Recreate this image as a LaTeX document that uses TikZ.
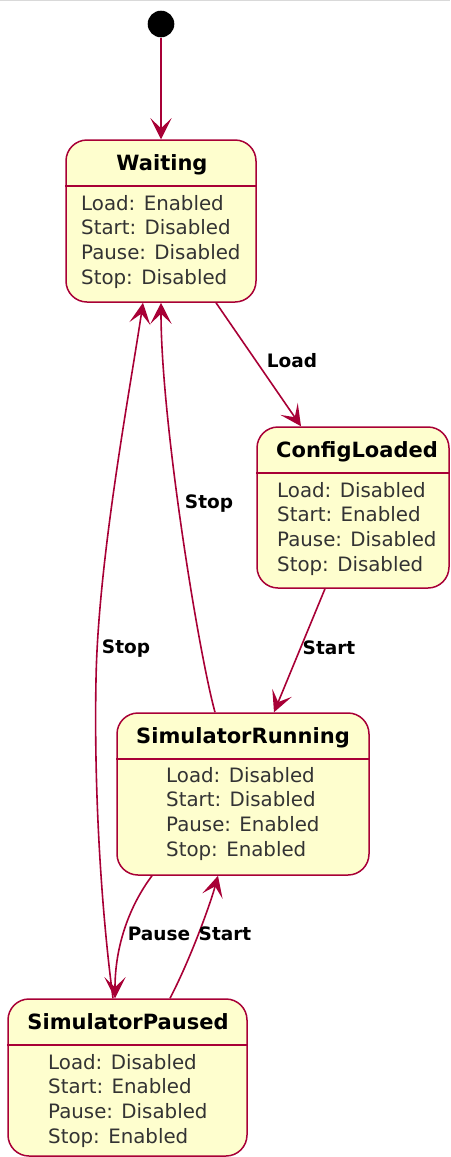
\documentclass[tikz,border=0pt]{standalone}
\usepackage{fontspec}
\setmainfont{DejaVu Sans}
\usetikzlibrary{arrows.meta,calc}

\definecolor{edgecol}{HTML}{A80036}
\definecolor{statefill}{HTML}{FEFECE}

\tikzset{
  statebox/.style={draw=edgecol, fill=statefill, line width=1.5pt,
    rounded corners=21pt, inner sep=0pt},
  statetitle/.style={font=\bfseries\fontsize{21}{25}\selectfont,
    anchor=base, inner sep=0pt},
  statebody/.style={font=\fontsize{19.8}{24.7}\selectfont, text=black!80,
    anchor=north west, align=left, inner sep=0pt},
  divider/.style={draw=edgecol, line width=1.5pt},
  trans/.style={draw=edgecol, line width=1.6pt,
    -{Stealth[length=21pt,width=21pt,inset=10pt]}},
  translabel/.style={font=\bfseries\fontsize{18.5}{22}\selectfont,
    inner sep=0pt},
}

\begin{document}
\begin{tikzpicture}[x=1pt,y=1pt]
\useasboundingbox (0,0) rectangle (450,-1157);
\draw[line width=1pt, black!15] (0,-0.5) -- (450,-0.5);

% initial pseudo-state
\node[circle, fill=black, minimum size=26.6pt, inner sep=0pt] (init) at (161,-24) {};

% states
\node[statebox, minimum width=190pt, minimum height=162pt] (W) at (161,-221) {};
\draw[divider] (W.west |- 0,-186) -- (W.east |- 0,-186);
\node[statetitle] (Wt) at (162,-170) {Waiting};
\node[statebody] (Wb) at (81,-195) {Load: Enabled\\Start: Disabled\\Pause: Disabled\\Stop: Disabled};

\node[statebox, minimum width=192pt, minimum height=161pt] (C) at (353,-507.5) {};
\draw[divider] (C.west |- 0,-473) -- (C.east |- 0,-473);
\node[statetitle] (Ct) at (357,-457) {ConfigLoaded};
\node[statebody] (Cb) at (277,-482) {Load: Disabled\\Start: Enabled\\Pause: Disabled\\Stop: Disabled};

\node[statebox, minimum width=252pt, minimum height=162pt] (R) at (243,-794) {};
\draw[divider] (R.west |- 0,-759) -- (R.east |- 0,-759);
\node[statetitle] (Rt) at (243,-743) {SimulatorRunning};
\node[statebody] (Rb) at (166,-767) {Load: Disabled\\Start: Disabled\\Pause: Enabled\\Stop: Enabled};

\node[statebox, minimum width=239pt, minimum height=157pt] (P) at (127.5,-1077.5) {};
\draw[divider] (P.west |- 0,-1045) -- (P.east |- 0,-1045);
\node[statetitle] (Pt) at (128,-1029) {SimulatorPaused};
\node[statebody] (Pb) at (48,-1054) {Load: Disabled\\Start: Enabled\\Pause: Disabled\\Stop: Enabled};

% transitions
\draw[trans] (init) -- (W.north);
\draw[trans] ([xshift=55pt]W.south) -- ([xshift=-52pt]C.north);
\draw[trans] ([xshift=-28pt]C.south) -- ([xshift=31pt]R.north);
\draw[trans] ([xshift=-28pt]R.north) .. controls (198,-650) and (161,-420) .. (W.south);
\draw[trans] ([xshift=-91pt]R.south) .. controls (130,-905) and (115,-945) .. ([xshift=-12.5pt]P.north);
\draw[trans] ([xshift=42.5pt]P.north) .. controls (190,-960) and (210,-905) .. ([xshift=-25pt]R.south);
\draw[trans] ([xshift=-14.5pt]P.north) .. controls (100,-900) and (94,-780) .. (96,-680)
  .. controls (98,-560) and (130,-390) .. ([xshift=-18pt]W.south);

% transition labels
\node[translabel] (lLoad) at (292,-361) {Load};
\node[translabel] (lStart1) at (329,-648) {Start};
\node[translabel] (lStop1) at (209,-504) {Stop};
\node[translabel] (lStop2) at (126,-649) {Stop};
\node[translabel] (lPause) at (159,-934) {Pause};
\node[translabel] (lStart2) at (225,-934) {Start};
\end{tikzpicture}
\end{document}
